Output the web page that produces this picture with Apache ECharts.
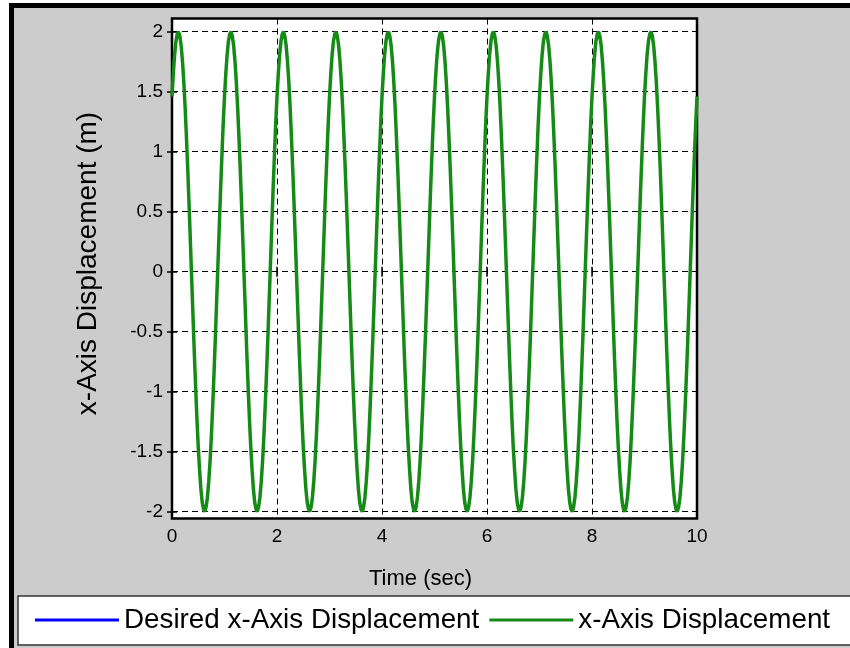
<!DOCTYPE html>
<html><head><meta charset="utf-8">
<script src="https://cdn.jsdelivr.net/npm/echarts@6/dist/echarts.min.js"></script>
<style>html,body{margin:0;padding:0;background:#fff}#c{width:850px;height:648px}</style>
</head><body><div id="c"></div>
<script>
const seriesNames = ['Desired x-Axis Displacement', 'x-Axis Displacement'];
const xTicks = [0, 2, 4, 6, 8, 10];
const yTicks = [-2, -1.5, -1, -0.5, 0, 0.5, 1, 1.5, 2];
const xLabel = 'Time (sec)';
const yLabel = 'x-Axis Displacement (m)';
const sampleStep = 0.025; // seconds between samples
const actualX = [
 1.46,1.65,1.81,1.92,1.98,2.00,1.96,1.88,1.75,1.58,1.37,1.12,0.85,0.56,0.25,-0.06,-0.37,-0.68,-0.96,-1.23,
 -1.46,-1.65,-1.81,-1.92,-1.98,-2.00,-1.96,-1.88,-1.75,-1.58,-1.37,-1.12,-0.85,-0.56,-0.25,0.06,0.37,0.68,0.96,1.23,
 1.46,1.65,1.81,1.92,1.98,2.00,1.96,1.88,1.75,1.58,1.37,1.12,0.85,0.56,0.25,-0.06,-0.37,-0.68,-0.96,-1.23,
 -1.46,-1.65,-1.81,-1.92,-1.98,-2.00,-1.96,-1.88,-1.75,-1.58,-1.37,-1.12,-0.85,-0.56,-0.25,0.06,0.37,0.68,0.96,1.23,
 1.46,1.65,1.81,1.92,1.98,2.00,1.96,1.88,1.75,1.58,1.37,1.12,0.85,0.56,0.25,-0.06,-0.37,-0.68,-0.96,-1.23,
 -1.46,-1.65,-1.81,-1.92,-1.98,-2.00,-1.96,-1.88,-1.75,-1.58,-1.37,-1.12,-0.85,-0.56,-0.25,0.06,0.37,0.68,0.96,1.23,
 1.46,1.65,1.81,1.92,1.98,2.00,1.96,1.88,1.75,1.58,1.37,1.12,0.85,0.56,0.25,-0.06,-0.37,-0.68,-0.96,-1.23,
 -1.46,-1.65,-1.81,-1.92,-1.98,-2.00,-1.96,-1.88,-1.75,-1.58,-1.37,-1.12,-0.85,-0.56,-0.25,0.06,0.37,0.68,0.96,1.23,
 1.46,1.65,1.81,1.92,1.98,2.00,1.96,1.88,1.75,1.58,1.37,1.12,0.85,0.56,0.25,-0.06,-0.37,-0.68,-0.96,-1.23,
 -1.46,-1.65,-1.81,-1.92,-1.98,-2.00,-1.96,-1.88,-1.75,-1.58,-1.37,-1.12,-0.85,-0.56,-0.25,0.06,0.37,0.68,0.96,1.23,
 1.46,1.65,1.81,1.92,1.98,2.00,1.96,1.88,1.75,1.58,1.37,1.12,0.85,0.56,0.25,-0.06,-0.37,-0.68,-0.96,-1.23,
 -1.46,-1.65,-1.81,-1.92,-1.98,-2.00,-1.96,-1.88,-1.75,-1.58,-1.37,-1.12,-0.85,-0.56,-0.25,0.06,0.37,0.68,0.96,1.23,
 1.46,1.65,1.81,1.92,1.98,2.00,1.96,1.88,1.75,1.58,1.37,1.12,0.85,0.56,0.25,-0.06,-0.37,-0.68,-0.96,-1.23,
 -1.46,-1.65,-1.81,-1.92,-1.98,-2.00,-1.96,-1.88,-1.75,-1.58,-1.37,-1.12,-0.85,-0.56,-0.25,0.06,0.37,0.68,0.96,1.23,
 1.46,1.65,1.81,1.92,1.98,2.00,1.96,1.88,1.75,1.58,1.37,1.12,0.85,0.56,0.25,-0.06,-0.37,-0.68,-0.96,-1.23,
 -1.46,-1.65,-1.81,-1.92,-1.98,-2.00,-1.96,-1.88,-1.75,-1.58,-1.37,-1.12,-0.85,-0.56,-0.25,0.06,0.37,0.68,0.96,1.23,
 1.46,1.65,1.81,1.92,1.98,2.00,1.96,1.88,1.75,1.58,1.37,1.12,0.85,0.56,0.25,-0.06,-0.37,-0.68,-0.96,-1.23,
 -1.46,-1.65,-1.81,-1.92,-1.98,-2.00,-1.96,-1.88,-1.75,-1.58,-1.37,-1.12,-0.85,-0.56,-0.25,0.06,0.37,0.68,0.96,1.23,
 1.46,1.65,1.81,1.92,1.98,2.00,1.96,1.88,1.75,1.58,1.37,1.12,0.85,0.56,0.25,-0.06,-0.37,-0.68,-0.96,-1.23,
 -1.46,-1.65,-1.81,-1.92,-1.98,-2.00,-1.96,-1.88,-1.75,-1.58,-1.37,-1.12,-0.85,-0.56,-0.25,0.06,0.37,0.68,0.96,1.23,
 1.46
];
const desiredX = actualX.slice();

const toPairs = arr => arr.map((v, i) => [+(i * sampleStep).toFixed(4), v]);
const FONT = 'Liberation Sans';
const chart = echarts.init(document.getElementById('c'), null, {renderer: 'canvas'});
const yMin = -2.057, yMax = 2.11;
const tickStyle = {inside: true, length: 5, lineStyle: {color: '#000', width: 1.5}};
const gridLine = {show: true, lineStyle: {color: '#000', width: 1, type: [6, 4]}};
chart.setOption({
  backgroundColor: '#ffffff',
  animation: false,
  graphic: [
    {type: 'rect', z: -10, shape: {x: 14, y: 8, width: 836, height: 640}, style: {fill: '#cccccc'}},
    {type: 'rect', z: -9, shape: {x: 9, y: 3, width: 841, height: 5}, style: {fill: '#000'}},
    {type: 'rect', z: -9, shape: {x: 9, y: 3, width: 5, height: 645}, style: {fill: '#000'}}
  ],
  grid: {left: 172, right: 153, top: 18.5, bottom: 129.5, show: true, backgroundColor: '#fff',
         borderColor: '#000', borderWidth: 2.5, containLabel: false},
  legend: {
    left: 18, top: 596, width: 900, padding: [10, 40, 11, 17],
    itemWidth: 84, itemHeight: 3, itemGap: 10, icon: 'rect',
    backgroundColor: '#fff', borderColor: '#333', borderWidth: 1.5, borderRadius: 0,
    textStyle: {fontSize: 27.8, fontFamily: FONT, color: '#000'},
    data: seriesNames
  },
  xAxis: [
    {type: 'value', min: 0, max: 10, interval: 2, position: 'bottom',
     axisLine: {show: false}, axisTick: tickStyle,
     axisLabel: {fontSize: 19, fontFamily: FONT, color: '#000', margin: 9},
     splitLine: gridLine,
     name: xLabel, nameLocation: 'middle', nameGap: 49,
     nameTextStyle: {fontSize: 22, fontFamily: FONT, color: '#000', padding: [0, 28, 0, 0]}},
    {type: 'value', min: 0, max: 10, interval: 2, position: 'top',
     axisLine: {show: false}, axisTick: tickStyle, axisLabel: {show: false}, splitLine: {show: false}}
  ],
  yAxis: [
    {type: 'value', min: yMin, max: yMax, position: 'left',
     axisLine: {show: false},
     axisTick: Object.assign({customValues: yTicks}, tickStyle),
     axisLabel: {customValues: yTicks, fontSize: 19, fontFamily: FONT, color: '#000', margin: 9},
     splitLine: gridLine,
     name: yLabel, nameLocation: 'middle', nameGap: 70, nameRotate: 90,
     nameTextStyle: {fontSize: 28, fontFamily: FONT, color: '#000', padding: [0, 0, 0, 10]}},
    {type: 'value', min: yMin, max: yMax, position: 'right',
     axisLine: {show: false},
     axisTick: Object.assign({customValues: yTicks}, tickStyle),
     axisLabel: {show: false}, splitLine: {show: false}}
  ],
  series: [
    {name: seriesNames[0], type: 'line', data: toPairs(desiredX), step: 'end', showSymbol: false,
     color: '#0000ff', lineStyle: {width: 1.5, color: '#0000ff'}, z: 2},
    {name: seriesNames[1], type: 'line', data: toPairs(actualX), step: 'end', showSymbol: false,
     color: '#168a16', lineStyle: {width: 3.5, color: '#168a16'}, z: 3}
  ]
});
</script></body></html>
